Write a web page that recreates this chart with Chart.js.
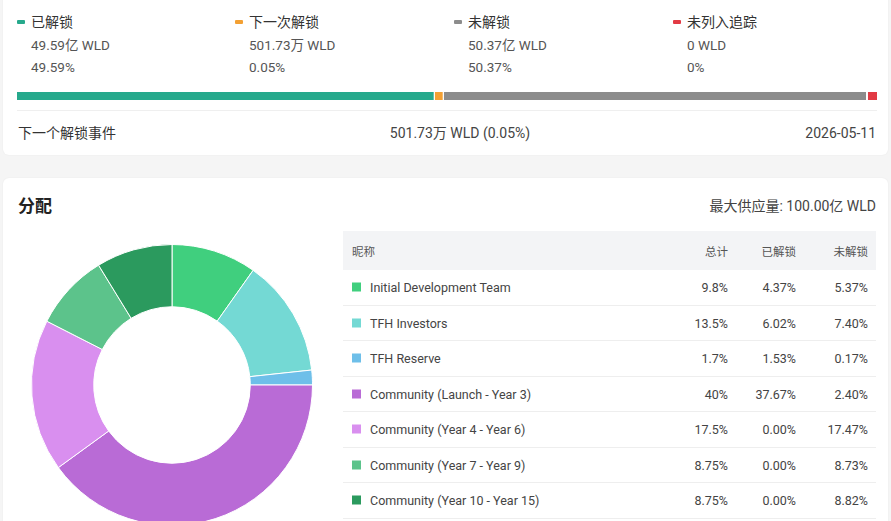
<!DOCTYPE html>
<html>
<head>
<meta charset="utf-8">
<script src="https://cdn.jsdelivr.net/npm/chart.js@4/dist/chart.umd.min.js"></script>
<style>
  html, body { margin: 0; padding: 0; }
  body {
    width: 891px; height: 521px; overflow: hidden; position: relative;
    background: #f5f5f5;
    font-family: Roboto, "Noto Sans CJK SC", sans-serif;
    color: #333;
  }
  .card { position: absolute; background: #fff; border-radius: 6px; box-shadow: 0 0 2px rgba(0,0,0,0.06); }
  .abs { position: absolute; white-space: nowrap; line-height: 20px; }
  .mark { position: absolute; width: 8px; height: 4px; border-radius: 1px; }
  .row { position: absolute; left: 343px; width: 533px; border-bottom: 1px solid #eeeeee; box-sizing: border-box; }
  .cell { position: absolute; top: 50%; transform: translateY(-50%); white-space: nowrap; }
</style>
</head>
<body>
<div class="card" style="left:3px; top:-8px; width:885px; height:163px;"></div>
<div class="card" style="left:3px; top:178px; width:885px; height:360px;"></div>

<div id="legend"></div>
<div style="position:absolute; left:17px; top:91px; width:860px; height:10px;"><canvas id="progress"></canvas></div>
<div style="position:absolute; left:17px; top:110px; width:860px; height:1px; background:#efefef;"></div>

<div class="abs" style="left:18px; top:123px; font-size:14px; color:#333;">下一个解锁事件</div>
<div class="abs" style="left:460px; top:123px; font-size:14px; color:#444; transform:translateX(-50%);">501.73万 WLD (0.05%)</div>
<div class="abs" style="right:15px; top:123px; font-size:14px; color:#444;">2026-05-11</div>

<div class="abs" style="left:18px; top:196px; font-size:17px; font-weight:bold; color:#222;">分配</div>
<div class="abs" style="right:15px; top:196px; font-size:14px; color:#444;">最大供应量: 100.00亿 WLD</div>

<div style="position:absolute; left:31px; top:244px; width:282px; height:282px;"><canvas id="donut"></canvas></div>
<div id="table"></div>

<script>
const unlockLabels = ["已解锁", "下一次解锁", "未解锁", "未列入追踪"];
const unlockAmounts = ["49.59亿 WLD", "501.73万 WLD", "50.37亿 WLD", "0 WLD"];
const unlockPercents = [49.59, 0.05, 50.37, 0];
const unlockColors = ["#26a98c", "#f3a033", "#8c8c8c", "#e23a44"];

const allocNames = [
    "Initial Development Team",
    "TFH Investors",
    "TFH Reserve",
    "Community (Launch - Year 3)",
    "Community (Year 4 - Year 6)",
    "Community (Year 7 - Year 9)",
    "Community (Year 10 - Year 15)"
];
const allocTotal = [9.8, 13.5, 1.7, 40, 17.5, 8.75, 8.75];
const allocUnlocked = [4.37, 6.02, 1.53, 37.67, 0, 0, 0];
const allocLocked = [5.37, 7.40, 0.17, 2.40, 17.47, 8.73, 8.82];
const allocColors = ["#40cf7e", "#74d9d4", "#6ebfe9", "#b96bd6", "#d98fef", "#5cc38b", "#2b9a5e"];

// legend row above the progress bar
const legendX = [17, 235, 454, 673];
let legendHtml = "";
unlockLabels.forEach((label, i) => {
    const x = legendX[i];
    legendHtml += `<div class="mark" style="left:${x}px; top:20px; background:${unlockColors[i]}"></div>`;
    legendHtml += `<div class="abs" style="left:${x + 14}px; top:12px; font-size:14px; color:#333;">${label}</div>`;
    legendHtml += `<div class="abs" style="left:${x + 14}px; top:35px; font-size:13.5px; color:#555;">${unlockAmounts[i]}</div>`;
    legendHtml += `<div class="abs" style="left:${x + 14}px; top:57px; font-size:13.5px; color:#555;">${unlockPercents[i]}%</div>`;
});
document.getElementById("legend").innerHTML = legendHtml;

// stacked progress bar
const gaps = [1, 1, 2, 0];
new Chart(document.getElementById("progress").getContext("2d"), {
    type: "bar",
    data: {
        labels: [""],
        datasets: unlockLabels.map((label, i) => ({
            label: label,
            data: [unlockPercents[i]],
            backgroundColor: unlockColors[i],
            borderColor: "#ffffff",
            borderWidth: { top: 0, bottom: 0, left: 0, right: gaps[i] },
            borderSkipped: false,
            minBarLength: i === 3 ? 18 : 9,
            barPercentage: 0.8,
            categoryPercentage: 1
        }))
    },
    options: {
        indexAxis: "y",
        responsive: true,
        maintainAspectRatio: false,
        animation: false,
        events: [],
        layout: { padding: 0 },
        plugins: { legend: { display: false }, tooltip: { enabled: false } },
        scales: {
            x: { stacked: true, display: false, min: 0, max: 102.1 },
            y: { stacked: true, display: false }
        }
    }
});

// allocation doughnut
new Chart(document.getElementById("donut").getContext("2d"), {
    type: "doughnut",
    data: {
        labels: allocNames,
        datasets: [{
            data: allocTotal,
            backgroundColor: allocColors,
            borderColor: "#ffffff",
            borderWidth: 1
        }]
    },
    options: {
        responsive: true,
        maintainAspectRatio: false,
        animation: false,
        events: [],
        cutout: "55.7%",
        layout: { padding: 0 },
        plugins: { legend: { display: false }, tooltip: { enabled: false } }
    }
});

// allocation table
const colRight = [148, 80, 8];
let tableHtml = `<div class="row" style="top:231px; height:39px; background:#f3f4f6; border-bottom:none;">
    <div class="cell" style="left:9px; font-size:11.5px; color:#555;">昵称</div>
    <div class="cell" style="right:${colRight[0]}px; font-size:11.5px; color:#555;">总计</div>
    <div class="cell" style="right:${colRight[1]}px; font-size:11.5px; color:#555;">已解锁</div>
    <div class="cell" style="right:${colRight[2]}px; font-size:11.5px; color:#555;">未解锁</div>
</div>`;
allocNames.forEach((name, i) => {
    const top = 270 + i * 35.5;
    tableHtml += `<div class="row" style="top:${top}px; height:35.5px;">
    <div class="cell" style="left:9px; width:9px; height:9px; background:${allocColors[i]}"></div>
    <div class="cell" style="left:27px; font-size:12.5px; color:#444;">${name}</div>
    <div class="cell" style="right:${colRight[0]}px; font-size:12.5px; color:#444;">${allocTotal[i]}%</div>
    <div class="cell" style="right:${colRight[1]}px; font-size:12.5px; color:#444;">${allocUnlocked[i].toFixed(2)}%</div>
    <div class="cell" style="right:${colRight[2]}px; font-size:12.5px; color:#444;">${allocLocked[i].toFixed(2)}%</div>
</div>`;
});
document.getElementById("table").innerHTML = tableHtml;
</script>
</body>
</html>
